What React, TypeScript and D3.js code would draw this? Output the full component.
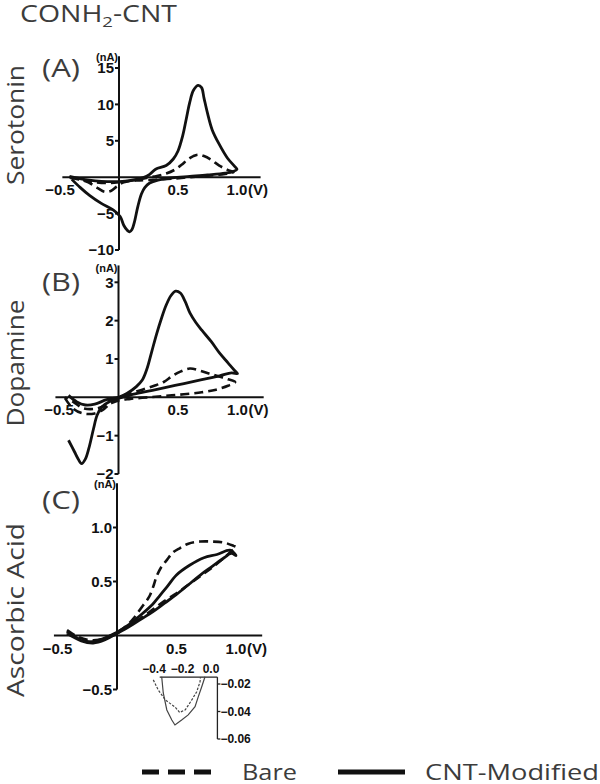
import React from "react";
import * as d3 from "d3";

type Pt = [number, number];

// x axis ticks (potential, V)
const xTicks = [-0.5, 0.5, 1.0];

// y axis ticks (current, nA)
const serotoninTicks = [-10, -5, 5, 10, 15];
const dopamineTicks = [-2, -1, 1, 2, 3];
const ascorbicTicks = [-0.5, 0.5, 1.0];

// (A) serotonin
const serotoninCntFwd: Pt[] = [
  [-0.42, 0.1], [-0.3, -0.3], [-0.2, -0.5], [-0.1, -0.6], [0, -0.6], [0.1, -0.45],
  [0.2, -0.1], [0.26, 0.4], [0.31, 1.1], [0.4, 1.6], [0.46, 2.5], [0.5, 3.6],
  [0.54, 5.7], [0.57, 8.0], [0.6, 10.3], [0.63, 11.9], [0.67, 12.6], [0.7, 12.3],
  [0.72, 10.9], [0.75, 8.8], [0.79, 6.5], [0.85, 4.5], [0.92, 2.6], [0.98, 1.5], [1.0, 1.1],
];
const serotoninCntRev: Pt[] = [
  [0.97, 0.8], [0.9, 0.55], [0.75, 0.3], [0.6, 0.1], [0.45, -0.1], [0.33, -0.4],
  [0.26, -0.8], [0.22, -1.4], [0.19, -2.3], [0.16, -4.0], [0.13, -6.2], [0.11, -7.2],
  [0.09, -7.5], [0.07, -7.3], [0.04, -6.6], [0.01, -5.4], [-0.05, -4.5], [-0.15, -3.6],
  [-0.25, -2.5], [-0.33, -1.4], [-0.4, -0.3],
];
const serotoninBareFwd: Pt[] = [
  [-0.42, 0], [-0.3, -0.4], [-0.2, -0.7], [-0.1, -0.8], [0, -0.7], [0.1, -0.5],
  [0.2, -0.2], [0.3, 0.1], [0.4, 0.5], [0.47, 1.0], [0.53, 1.7], [0.58, 2.4],
  [0.63, 2.9], [0.67, 3.1], [0.72, 2.9], [0.78, 2.4], [0.85, 1.6], [0.92, 1.0], [0.97, 0.7],
];
const serotoninBareRev: Pt[] = [
  [0.9, 0.45], [0.75, 0.2], [0.6, 0.0], [0.45, -0.2], [0.3, -0.35], [0.15, -0.45],
  [0.04, -0.7], [-0.02, -1.3], [-0.07, -1.9], [-0.12, -2.0], [-0.18, -1.5],
  [-0.26, -0.7], [-0.34, -0.3], [-0.42, -0.1],
];

// (B) dopamine
const dopamineCntFwd: Pt[] = [
  [-0.42, 0.05], [-0.35, -0.12], [-0.28, -0.2], [-0.2, -0.18], [-0.1, -0.06], [0, 0],
  [0.07, 0.1], [0.15, 0.28], [0.2, 0.45], [0.24, 0.75], [0.28, 1.2], [0.32, 1.65],
  [0.36, 2.05], [0.4, 2.4], [0.44, 2.65], [0.48, 2.77], [0.52, 2.72], [0.56, 2.5],
  [0.6, 2.2], [0.65, 1.95], [0.7, 1.75], [0.78, 1.45], [0.85, 1.15], [0.92, 0.9],
  [0.97, 0.72], [1.0, 0.62],
];
const dopamineCntRev: Pt[] = [
  [0.95, 0.64], [0.85, 0.56], [0.7, 0.46], [0.55, 0.36], [0.4, 0.26], [0.25, 0.16],
  [0.1, 0.06], [0, -0.03], [-0.07, -0.1], [-0.14, -0.25], [-0.18, -0.47], [-0.21, -0.82],
  [-0.25, -1.34], [-0.28, -1.62], [-0.31, -1.73], [-0.34, -1.6], [-0.37, -1.42], [-0.42, -1.12],
];
const dopamineBareFwd: Pt[] = [
  [-0.45, -0.02], [-0.38, -0.3], [-0.3, -0.42], [-0.2, -0.42], [-0.12, -0.3], [-0.05, -0.1],
  [0, 0], [0.1, 0.1], [0.2, 0.2], [0.3, 0.3], [0.38, 0.4], [0.45, 0.55], [0.52, 0.67],
  [0.6, 0.75], [0.68, 0.7], [0.76, 0.62], [0.84, 0.55], [0.92, 0.47], [0.98, 0.4],
];
const dopamineBareRev: Pt[] = [
  [0.92, 0.3], [0.82, 0.2], [0.7, 0.13], [0.55, 0.08], [0.4, 0.04], [0.25, 0.0],
  [0.1, -0.04], [0, -0.08], [-0.1, -0.2], [-0.2, -0.3], [-0.3, -0.28], [-0.38, -0.12], [-0.45, 0],
];

// (C) ascorbic acid
const ascorbicCntFwd: Pt[] = [
  [-0.42, 0.04], [-0.32, -0.04], [-0.22, -0.06], [-0.12, -0.03], [0, 0.03], [0.1, 0.1],
  [0.2, 0.19], [0.3, 0.29], [0.36, 0.37], [0.42, 0.45], [0.5, 0.56], [0.61, 0.65],
  [0.73, 0.72], [0.84, 0.75], [0.95, 0.79], [1.0, 0.74],
];
const ascorbicCntRev: Pt[] = [
  [0.96, 0.76], [0.9, 0.72], [0.8, 0.64], [0.7, 0.56], [0.6, 0.47], [0.5, 0.38],
  [0.4, 0.3], [0.3, 0.22], [0.2, 0.15], [0.1, 0.08], [0, 0.02], [-0.1, -0.04],
  [-0.2, -0.07], [-0.3, -0.05], [-0.42, 0.02],
];
const ascorbicBareFwd: Pt[] = [
  [-0.42, 0.05], [-0.35, 0.0], [-0.25, -0.04], [-0.15, -0.04], [-0.05, 0.0], [0, 0.03],
  [0.07, 0.08], [0.14, 0.16], [0.22, 0.28], [0.26, 0.34], [0.28, 0.38], [0.31, 0.47],
  [0.33, 0.54], [0.37, 0.63], [0.42, 0.7], [0.47, 0.77], [0.53, 0.81], [0.6, 0.85],
  [0.7, 0.87], [0.8, 0.87], [0.9, 0.86], [0.98, 0.83], [1.0, 0.82],
];
const ascorbicBareRev: Pt[] = [
  [0.96, 0.78], [0.9, 0.72], [0.8, 0.63], [0.7, 0.55], [0.6, 0.47], [0.5, 0.39],
  [0.4, 0.32], [0.3, 0.24], [0.2, 0.16], [0.1, 0.09], [0, 0.02], [-0.1, -0.03],
  [-0.2, -0.06], [-0.3, -0.04], [-0.42, 0.03],
];

// inset of (C), zoom on the negative region
const insetXTicks = [-0.4, -0.2, 0.0];
const insetYTicks = [-0.02, -0.04, -0.06];
const insetBare: Pt[] = [
  [-0.405, -0.017], [-0.37, -0.0244], [-0.32, -0.0316], [-0.25, -0.037], [-0.22, -0.0407],
  [-0.18, -0.0387], [-0.135, -0.0316], [-0.1, -0.0256], [-0.077, -0.0184], [-0.074, -0.015],
];
const insetCnt: Pt[] = [
  [-0.346, -0.0147], [-0.335, -0.0265], [-0.31, -0.0389], [-0.275, -0.0462], [-0.253, -0.0498],
  [-0.206, -0.0462], [-0.16, -0.0425], [-0.112, -0.0365], [-0.089, -0.0292], [-0.065, -0.022],
  [-0.042, -0.0147],
];

const ink = "#111";
const textInk = "#3c3c3c";
const sans = "'Open Sans', 'DejaVu Sans', sans-serif";
const bold = "'Liberation Sans', Arial, sans-serif";

const panels = [
  {
    tag: "(A)", tagY: 77, name: "Serotonin", nameY: 125, nameLen: 120,
    ticks: serotoninTicks, fmt: (v: number) => d3.format("d")(v),
    bare: serotoninBareFwd.concat(serotoninBareRev), cnt: serotoninCntFwd.concat(serotoninCntRev),
    x: d3.scaleLinear().domain([-0.5, 1]).range([60, 237]),
    y: d3.scaleLinear().domain([-10, 15]).range([250, 68]),
    yTop: 16.6, xMin: -0.48, xMax: 1.2, unitY: 61,
  },
  {
    tag: "(B)", tagY: 291, name: "Dopamine", nameY: 363, nameLen: 127,
    ticks: dopamineTicks, fmt: (v: number) => d3.format("d")(v),
    bare: dopamineBareFwd.concat(dopamineBareRev), cnt: dopamineCntFwd.concat(dopamineCntRev),
    x: d3.scaleLinear().domain([-0.5, 1]).range([59, 237.5]),
    y: d3.scaleLinear().domain([-2, 3]).range([474, 282.3]),
    yTop: 3.44, xMin: -0.53, xMax: 1.22, unitY: 272,
  },
  {
    tag: "(C)", tagY: 509, name: "Ascorbic Acid", nameY: 610, nameLen: 174,
    ticks: ascorbicTicks, fmt: (v: number) => d3.format(".1f")(v),
    bare: ascorbicBareFwd.concat(ascorbicBareRev), cnt: ascorbicCntFwd.concat(ascorbicCntRev),
    x: d3.scaleLinear().domain([-0.5, 1]).range([57.5, 236]),
    y: d3.scaleLinear().domain([-0.5, 1]).range([689.5, 527.5]),
    yTop: 1.41, xMin: -0.53, xMax: 1.22, unitY: 488,
  },
];

const Panel = ({ p }: { p: (typeof panels)[number] }) => {
  const { x, y } = p;
  const line = d3
    .line<Pt>()
    .x((d) => x(d[0]))
    .y((d) => y(d[1]))
    .curve(d3.curveCatmullRom.alpha(0.5));
  const x0 = x(0);
  const y0 = y(0);
  const yBottom = p.y.domain()[0];
  return (
    <g>
      <text x={42} y={p.tagY} fontFamily={sans} fontSize={26} fill={textInk} textLength={38} lengthAdjust="spacingAndGlyphs">
        {p.tag}
      </text>
      <text
        transform={`translate(24,${p.nameY}) rotate(-90)`}
        textAnchor="middle"
        fontFamily={sans}
        fontSize={24}
        fill={textInk}
        textLength={p.nameLen}
        lengthAdjust="spacingAndGlyphs"
      >
        {p.name}
      </text>
      <text x={x0 - 1} y={p.unitY} textAnchor="end" fontFamily={bold} fontWeight="bold" fontSize={11} fill={ink}>
        (nA)
      </text>
      {/* axes */}
      <line x1={x0} x2={x0} y1={y(p.yTop)} y2={y(yBottom)} stroke={ink} strokeWidth={2} />
      <line x1={x(p.xMin)} x2={x(p.xMax)} y1={y0} y2={y0} stroke={ink} strokeWidth={2} />
      {p.ticks.map((t) => (
        <g key={t}>
          <line x1={x0 - 4} x2={x0} y1={y(t)} y2={y(t)} stroke={ink} strokeWidth={2} />
          <text
            x={x0 - 5}
            y={y(t)}
            dy="0.36em"
            textAnchor="end"
            fontFamily={bold}
            fontWeight="bold"
            fontSize={15}
            fill={ink}
          >
            {p.fmt(t)}
          </text>
        </g>
      ))}
      {xTicks.map((t) => (
        <text
          key={t}
          x={x(t)}
          y={y0 + 18}
          textAnchor="middle"
          fontFamily={bold}
          fontWeight="bold"
          fontSize={15}
          fill={ink}
        >
          {d3.format(".1f")(t)}
        </text>
      ))}
      <text x={x(1) + 11} y={y0 + 18} fontFamily={bold} fontWeight="bold" fontSize={15} fill={ink}>
        (V)
      </text>
      {/* curves */}
      <path d={line(p.bare) ?? ""} fill="none" stroke={ink} strokeWidth={2.6} strokeDasharray="9 5" />
      <path d={line(p.cnt) ?? ""} fill="none" stroke={ink} strokeWidth={2.8} strokeLinejoin="round" />
    </g>
  );
};

const Inset = () => {
  const x = d3.scaleLinear().domain([-0.4, 0]).range([154, 211]);
  const y = d3.scaleLinear().domain([-0.06, -0.02]).range([739, 684]);
  const line = d3
    .line<Pt>()
    .x((d) => x(d[0]))
    .y((d) => y(d[1]))
    .curve(d3.curveLinear);
  const top = y(-0.015);
  const right = x(0.045);
  return (
    <g>
      <line x1={x(-0.36)} x2={right} y1={top} y2={top} stroke="#222" strokeWidth={1.3} />
      <line x1={right} x2={right} y1={top} y2={y(-0.06)} stroke="#222" strokeWidth={1.3} />
      {insetXTicks.map((t) => (
        <text key={t} x={x(t)} y={top - 4} textAnchor="middle" fontFamily={bold} fontWeight="bold" fontSize={12} fill={ink}>
          {d3.format(".1f")(t)}
        </text>
      ))}
      {insetYTicks.map((t) => (
        <g key={t}>
          <line x1={right} x2={right + 3} y1={y(t)} y2={y(t)} stroke="#222" strokeWidth={1.3} />
          <text x={right + 3} y={y(t)} dy="0.36em" fontFamily={bold} fontWeight="bold" fontSize={12} fill={ink}>
            {d3.format(".2f")(t)}
          </text>
        </g>
      ))}
      <path d={line(insetBare) ?? ""} fill="none" stroke="#444" strokeWidth={1.2} strokeDasharray="2.5 1.5" />
      <path d={line(insetCnt) ?? ""} fill="none" stroke="#444" strokeWidth={1.2} />
    </g>
  );
};

export default function App() {
  return (
    <div style={{ position: "absolute", left: 0, top: 0 }}>
      <svg width={600} height={784} style={{ display: "block", background: "#fff" }}>
        <text x={20} y={22} fontFamily={sans} fontSize={23} fill={textInk} textLength={157} lengthAdjust="spacingAndGlyphs">
          CONH
          <tspan fontSize={15} dy={5}>2</tspan>
          <tspan dy={-5}>-CNT</tspan>
        </text>
        {panels.map((p) => (
          <Panel key={p.tag} p={p} />
        ))}
        <Inset />
        {/* legend */}
        <line x1={142} x2={212} y1={772} y2={772} stroke={ink} strokeWidth={5} strokeDasharray="17 9" />
        <text x={242} y={780} fontFamily={sans} fontSize={22} fill={textInk} textLength={55} lengthAdjust="spacingAndGlyphs">
          Bare
        </text>
        <line x1={338} x2={405} y1={772} y2={772} stroke={ink} strokeWidth={5} />
        <text x={425} y={780} fontFamily={sans} fontSize={22} fill={textInk} textLength={174} lengthAdjust="spacingAndGlyphs">
          CNT-Modified
        </text>
      </svg>
    </div>
  );
}
